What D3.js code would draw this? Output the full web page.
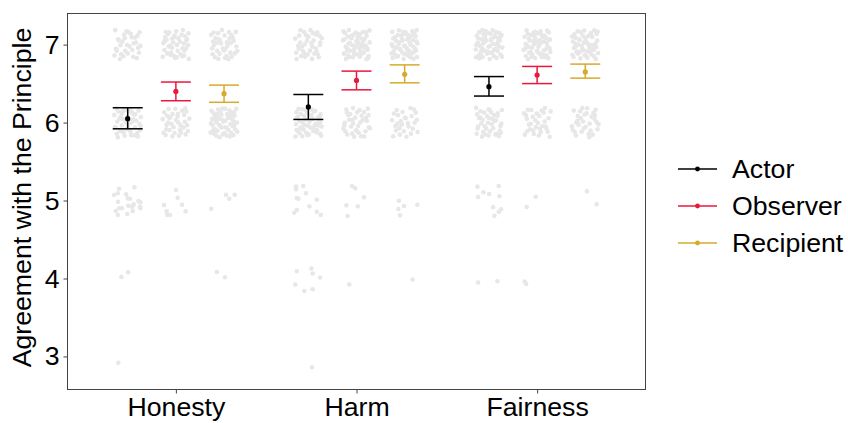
<!DOCTYPE html>
<html>
<head>
<meta charset="utf-8">
<script src="https://cdn.jsdelivr.net/npm/d3@7"></script>
<style>
html,body{margin:0;padding:0;background:#fff;}
svg{display:block;font-family:"Liberation Sans",Arial,sans-serif;}
</style>
</head>
<body>
<svg id="chart" width="848" height="423"></svg>
<script>
// ---- data ----
const categories = ["Honesty", "Harm", "Fairness"];
const seriesNames = ["Actor", "Observer", "Recipient"];
const yTicks = [3, 4, 5, 6, 7];

// means and confidence limits, per category (rows) and series (columns)
const meanValues = [
  [6.05, 6.40, 6.37],
  [6.20, 6.54, 6.62],
  [6.46, 6.61, 6.65]
];
const lowerValues = [
  [5.92, 6.28, 6.26],
  [6.04, 6.42, 6.51],
  [6.34, 6.50, 6.57]
];
const upperValues = [
  [6.19, 6.52, 6.48],
  [6.36, 6.66, 6.74],
  [6.59, 6.72, 6.75]
];

// number of raw responses at rating 7 and 6 (dense clusters)
const count7 = [
  [32, 42, 38],
  [38, 55, 55],
  [55, 55, 50]
];
const count6 = [
  [45, 36, 55],
  [50, 36, 28],
  [40, 32, 32]
];

// sparse raw responses (rating <= 5): [category, series, jittered rating, x jitter]
const sparsePoints = [
  [0,0,5.152,-0.048],[0,0,5.071,-0.076],[0,0,5.093,-0.055],[0,0,5.170,0.037],[0,0,5.080,-0.009],
  [0,0,5.028,0.000],[0,0,5.023,0.013],[0,0,4.985,-0.054],[0,0,4.994,0.059],[0,0,4.977,0.070],
  [0,0,4.951,0.033],[0,0,4.933,0.003],[0,0,4.920,0.024],[0,0,4.900,-0.047],[0,0,4.900,-0.032],
  [0,0,4.920,0.068],[0,0,4.900,0.070],[0,0,4.865,-0.066],[0,0,4.865,0.028],[0,0,4.814,-0.055],
  [0,0,4.827,-0.002],
  [0,1,5.135,0.001],[0,1,5.036,0.010],[0,1,4.942,-0.066],[0,1,4.946,0.034],[0,1,4.861,-0.051],
  [0,1,4.861,0.054],[0,1,4.814,-0.048],[0,1,4.814,-0.033],
  [0,2,5.075,0.011],[0,2,5.023,0.029],[0,2,5.075,0.059],[0,2,4.895,-0.071],
  [0,0,4.080,0.002],[0,0,4.020,-0.035],[0,2,4.084,-0.039],[0,2,4.016,0.005],
  [0,0,2.919,-0.052],
  [1,0,5.178,-0.068],[1,0,5.144,-0.068],[1,0,5.187,-0.028],[1,0,5.093,-0.013],[1,0,5.032,-0.064],
  [1,0,5.023,-0.055],[1,0,5.010,0.047],[1,0,4.925,0.006],[1,0,4.878,-0.064],[1,0,4.843,-0.078],
  [1,0,4.856,0.047],[1,0,4.814,0.069],
  [1,1,5.187,-0.025],[1,1,5.157,-0.007],[1,1,5.041,0.042],[1,1,4.938,-0.056],[1,1,4.925,0.007],
  [1,1,4.801,-0.049],
  [1,2,4.997,-0.032],[1,2,4.929,-0.004],[1,2,4.891,-0.035],[1,2,4.946,0.070],[1,2,4.810,-0.026],
  [1,0,4.093,-0.064],[1,0,4.128,0.017],[1,0,4.064,0.024],[1,0,4.012,0.065],[1,0,3.922,-0.072],
  [1,0,3.840,-0.022],[1,0,3.862,0.024],
  [1,1,3.922,-0.040],[1,2,3.986,0.044],
  [1,0,2.862,0.020],
  [2,0,5.178,-0.064],[2,0,5.106,-0.031],[2,0,5.084,0.001],[2,0,5.045,-0.060],[2,0,5.187,0.054],
  [2,0,5.054,0.058],[2,0,4.913,0.023],[2,0,4.887,0.067],[2,0,4.852,0.054],[2,0,4.805,0.030],
  [2,1,5.049,-0.008],[2,1,4.916,-0.058],
  [2,2,5.118,0.009],[2,2,4.951,0.063],
  [2,0,3.948,-0.060],[2,0,3.965,0.047],
  [2,1,3.961,-0.069],[2,1,3.930,-0.061]
];

const colors = ["#000000", "#e8193f", "#d6aa2b"];

// ---- layout ----
const svg = d3.select("#chart");
const panel = {left: 67.5, right: 645.5, top: 13.5, bottom: 389.5};

const x = d3.scalePoint().domain(categories)
  .range([panel.left, panel.right]).padding(0.6);
const unit = x.step();
const dodge = d3.scalePoint().domain(seriesNames).range([-0.8/3, 0.8/3]);
const y = d3.scaleLinear().domain([2.576, 7.399]).range([panel.bottom, panel.top]);

const fontSize = 26.7;

// panel border
svg.append("rect")
  .attr("x", panel.left).attr("y", panel.top)
  .attr("width", panel.right - panel.left).attr("height", panel.bottom - panel.top)
  .attr("fill", "none").attr("stroke", "#444").attr("stroke-width", 1);

// axes
const yAxis = svg.append("g").attr("transform", `translate(${panel.left},0)`)
  .call(d3.axisLeft(y).tickValues(yTicks).tickSize(4).tickPadding(4).tickFormat(d3.format("d")));
const xAxis = svg.append("g").attr("transform", `translate(0,${panel.bottom})`)
  .call(d3.axisBottom(x).tickSize(4).tickPadding(4));
[yAxis, xAxis].forEach(g => {
  g.select(".domain").remove();
  g.selectAll(".tick line").attr("stroke", "#444");
  g.selectAll(".tick text").attr("fill", "#000").attr("font-size", fontSize)
    .attr("font-family", "Liberation Sans, Arial, sans-serif");
});
xAxis.selectAll(".tick text").attr("dy", "0.71em");

// y title
svg.append("text")
  .attr("transform", `translate(31,${(panel.top + panel.bottom) / 2 - 4}) rotate(-90)`)
  .attr("text-anchor", "middle")
  .attr("font-size", fontSize)
  .attr("fill", "#000")
  .text("Agreement with the Principle");

// raw points: jitter offsets from a deterministic Halton sequence (bases 2 and 3)
function halton(i, b) {
  let f = 1, r = 0;
  while (i > 0) { f /= b; r += f * (i % b); i = Math.floor(i / b); }
  return r;
}
const raw = [];
categories.forEach((c, ci) => {
  seriesNames.forEach((s, si) => {
    [[7, count7[ci][si]], [6, count6[ci][si]]].forEach(([lvl, n], li) => {
      const seed = (ci * 6 + si * 2 + li) * 97 + 17;
      for (let i = 0; i < n; i++) {
        const k = seed + i * 7;
        const u = halton(k, 2), v = halton(k, 3);
        raw.push({ci, si, value: lvl + (v * 2 - 1) * 0.19, jx: (u * 2 - 1) * 0.075});
      }
    });
  });
});
sparsePoints.forEach(([ci, si, value, jx]) => raw.push({ci, si, value, jx}));

svg.append("g").selectAll("circle").data(raw).join("circle")
  .attr("cx", d => x(categories[d.ci]) + (dodge(seriesNames[d.si]) + d.jx) * unit)
  .attr("cy", d => y(d.value))
  .attr("r", 2.3)
  .attr("fill", "#e7e7e7");

// error bars and means
const summary = [];
categories.forEach((c, ci) => seriesNames.forEach((s, si) => summary.push({
  c, s, si, mean: meanValues[ci][si], lo: lowerValues[ci][si], hi: upperValues[ci][si]
})));
const half = 0.083 * unit;
const eg = svg.append("g").selectAll("g").data(summary).join("g")
  .attr("transform", d => `translate(${x(d.c) + dodge(d.s) * unit},0)`)
  .attr("stroke", d => colors[d.si]).attr("fill", d => colors[d.si]);
eg.append("line").attr("x1", 0).attr("x2", 0).attr("y1", d => y(d.lo)).attr("y2", d => y(d.hi)).attr("stroke-width", 1.5);
eg.append("line").attr("x1", -half).attr("x2", half).attr("y1", d => y(d.lo)).attr("y2", d => y(d.lo)).attr("stroke-width", 1.5);
eg.append("line").attr("x1", -half).attr("x2", half).attr("y1", d => y(d.hi)).attr("y2", d => y(d.hi)).attr("stroke-width", 1.5);
eg.append("circle").attr("cx", 0).attr("cy", d => y(d.mean)).attr("r", 2.6).attr("stroke", "none");

// legend
const lg = svg.append("g").selectAll("g").data(seriesNames).join("g")
  .attr("transform", (d, i) => `translate(678,${169 + i * 37})`);
lg.append("line").attr("x1", 0).attr("x2", 39).attr("y1", 0).attr("y2", 0)
  .attr("stroke", (d, i) => colors[i]).attr("stroke-width", 1.5);
lg.append("circle").attr("cx", 19.5).attr("cy", 0).attr("r", 2.4).attr("fill", (d, i) => colors[i]);
lg.append("text").attr("x", 54).attr("y", 0).attr("dy", "0.35em")
  .attr("font-size", fontSize).attr("fill", "#000").text(d => d);
</script>
</body>
</html>
